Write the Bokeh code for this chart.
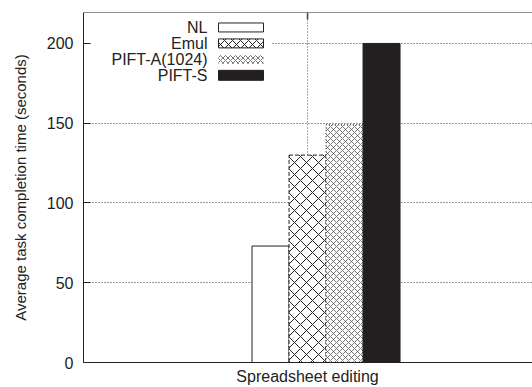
from bokeh.plotting import figure
from bokeh.models import FixedTicker, Span, BoxAnnotation, Label
from bokeh.embed import file_html
from bokeh.resources import INLINE

# ---- data ----
categories = ["Spreadsheet editing"]
series = ["NL", "Emul", "PIFT-A(1024)", "PIFT-S"]
nl = [73]
emul = [130]
pift_a = [149]
pift_s = [200]
y_ticks = [0, 50, 100, 150, 200]

FONT = "Liberation Sans"
TXT = "#222222"

X0, X1 = -1.211, 1.216
Y0, Y1 = 0, 219.4
p = figure(width=532, height=387, x_range=(X0, X1), y_range=(Y0, Y1),
           output_backend="svg", toolbar_location=None,
           min_border_left=83, min_border_right=0, min_border_top=12, min_border_bottom=24)
p.outline_line_color = None
p.background_fill_color = "white"

# pixel -> data helpers (frame: x 83..532, y 12..363)
def dx(px):
    return X0 + (px - 83) * (X1 - X0) / (532 - 83)
def dy(py):
    return Y0 + (363 - py) * (Y1 - Y0) / (363 - 12)

# axes
p.xaxis.ticker = FixedTicker(ticks=[0])
p.xaxis.major_label_overrides = {0: categories[0]}
p.xaxis.major_tick_in = 0
p.xaxis.major_tick_out = 0
p.xaxis.minor_tick_line_color = None
p.xaxis.major_label_standoff = 5
p.xaxis.axis_line_color = "#222222"

p.yaxis.ticker = FixedTicker(ticks=y_ticks)
p.yaxis.major_tick_in = 7
p.yaxis.major_tick_out = 0
p.yaxis.minor_tick_line_color = None
p.yaxis.major_label_standoff = 10
p.yaxis.axis_label = "Average task completion time (seconds)"
p.yaxis.axis_label_standoff = 15
p.yaxis.axis_line_color = "#222222"
p.yaxis.major_tick_line_color = "#222222"

for ax in (p.xaxis[0], p.yaxis[0]):
    ax.major_label_text_font = FONT
    ax.major_label_text_font_size = "16px"
    ax.major_label_text_color = TXT
    ax.axis_label_text_font = FONT
    ax.axis_label_text_font_size = "15px"
    ax.axis_label_text_font_style = "normal"
    ax.axis_label_text_color = TXT

# grids
p.ygrid.ticker = FixedTicker(ticks=y_ticks[1:])
p.ygrid.grid_line_dash = "1 2"
p.ygrid.grid_line_color = "#333333"
p.xgrid.ticker = FixedTicker(ticks=[0])
p.xgrid.grid_line_dash = "1 2"
p.xgrid.grid_line_color = "#555555"

# top border and mirrored x tick
p.add_layout(Span(location=Y1, dimension="width", line_color="#222222", line_width=1))
p.segment(x0=[0], x1=[0], y0=[Y1], y1=[dy(19)], line_color="#444444", line_width=1.5)

# white legend background hiding gridlines
p.add_layout(BoxAnnotation(left=X0, right=dx(271), top=Y1, bottom=dy(85),
                           fill_color="white", fill_alpha=1, line_color=None, level="underlay"))

# bars
offsets = [-0.2, 0.0, 0.2, 0.4]
W = 0.2
p.vbar(x=[offsets[0]], top=nl, width=W, fill_color="white", line_color="#222222", line_width=1)
p.vbar(x=[offsets[1]], top=emul, width=W, fill_color="white", line_color="#222222",
       line_dash="4 2", hatch_pattern="diagonal_cross", hatch_scale=12,
       hatch_color="#222222", hatch_weight=1)
p.vbar(x=[offsets[2]], top=pift_a, width=W, fill_color="white", line_color="#333333",
       line_dash="1 2", hatch_pattern="diagonal_cross", hatch_scale=6,
       hatch_color="#555555", hatch_weight=0.8)
p.vbar(x=[offsets[3]], top=pift_s, width=W, fill_color="#231f20", line_color="#231f20")

# legend (manual, gnuplot style: text right-aligned, swatch on the right)
rows_px = [27, 43, 59, 75]
styles = [
    dict(fill_color="white", line_color="#222222"),
    dict(fill_color="white", line_color="#222222", hatch_pattern="diagonal_cross",
         hatch_scale=8, hatch_color="#222222", hatch_weight=1),
    dict(fill_color="white", line_color=None, hatch_pattern="diagonal_cross",
         hatch_scale=5, hatch_color="#555555", hatch_weight=0.8),
    dict(fill_color="#231f20", line_color="#231f20"),
]
for name, rp, st in zip(series, rows_px, styles):
    h = 9 if name != "PIFT-S" else 10
    p.quad(left=[dx(218)], right=[dx(263)], top=[dy(rp - h / 2)], bottom=[dy(rp + h / 2)], **st)
    p.add_layout(Label(x=dx(207), y=dy(rp), text=name, text_align="right",
                       text_baseline="middle", text_font=FONT, text_font_size="16px",
                       text_color=TXT))

open("out.html", "w").write(file_html(p, INLINE))
